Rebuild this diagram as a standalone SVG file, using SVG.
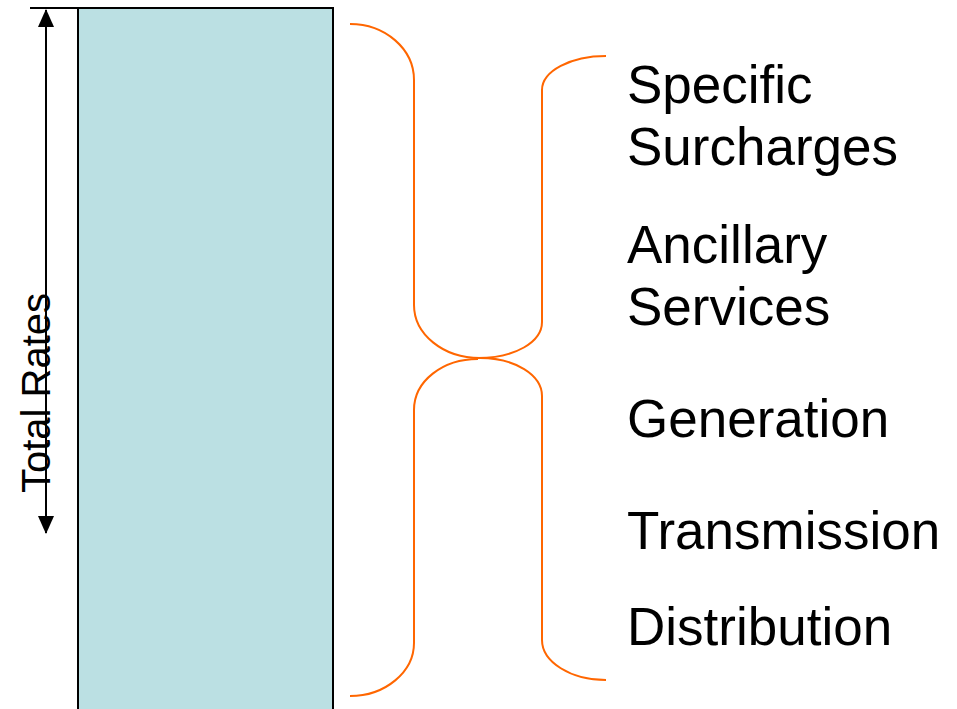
<svg xmlns="http://www.w3.org/2000/svg" width="957" height="709" viewBox="0 0 957 709">
<style>
.lbl{font-family:"Liberation Sans",Arial,sans-serif;font-size:53px;fill:#000}
.brace{fill:none;stroke:#FF6600;stroke-width:2}
</style>
<defs>
<marker id="ah" markerWidth="18" markerHeight="18" viewBox="0 0 18 18" refX="17" refY="9" orient="auto-start-reverse" markerUnits="userSpaceOnUse">
<path d="M0,1 L18,9 L0,17 Z" fill="#000"/>
</marker>
</defs>
<rect width="957" height="709" fill="#fff"/>
<g id="bar">
<rect x="78" y="8" width="255" height="705" fill="#BBE0E3" stroke="#000" stroke-width="2"/>
</g>
<g id="total-rates">
<line x1="30" y1="8" x2="78" y2="8" stroke="#000" stroke-width="2"/>
<text class="lbl" x="50" y="393" style="font-size:40px" text-anchor="middle" transform="rotate(-90 50 393)">Total Rates</text>
</g>
<g id="connectors">
<line x1="46" y1="10" x2="46" y2="533" stroke="#000" stroke-width="2" marker-start="url(#ah)" marker-end="url(#ah)"/>
<path class="brace" d="M350,24 C385.3,24 414,49 414,80 L414,305 C414,334 442.7,358 480,358"/>
<path class="brace" d="M478,359 C442.7,359 414,381 414,410 L414,643 C414,672 385.3,696 350,696"/>
<path class="brace" d="M606,56 C570.7,56 542,71 542,90 L542,322 C542,342 515,358 478,358"/>
<path class="brace" d="M480,358 C515,358 542,375 542,396 L542,640 C542,662 570.7,680 606,680"/>
</g>
<g id="specific-surcharges">
<text class="lbl" x="627" y="103">Specific</text>
<text class="lbl" x="627" y="165">Surcharges</text>
</g>
<g id="ancillary-services">
<text class="lbl" x="627" y="263">Ancillary</text>
<text class="lbl" x="627" y="325">Services</text>
</g>
<g id="generation"><text class="lbl" x="627" y="437">Generation</text></g>
<g id="transmission"><text class="lbl" x="627" y="549">Transmission</text></g>
<g id="distribution"><text class="lbl" x="627" y="645">Distribution</text></g>
</svg>
